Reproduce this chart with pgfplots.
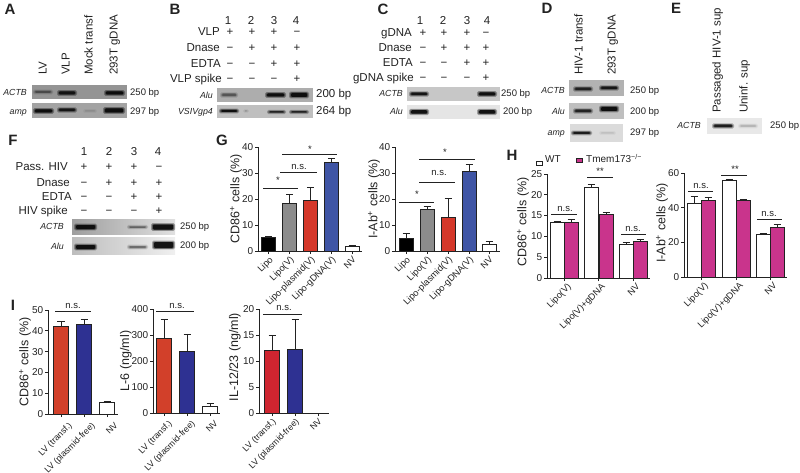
\documentclass[border=0pt]{standalone}
\usepackage{pgfplots}
\pgfplotsset{compat=1.18}
\usepackage{fontspec}
\setmainfont{Liberation Sans}
\definecolor{ink}{HTML}{222222}
\definecolor{cgray}{HTML}{8C8C8C}
\definecolor{cred}{HTML}{D5382A}
\definecolor{cblue}{HTML}{3F55A5}
\definecolor{cmag}{HTML}{C9348C}
\definecolor{ired}{HTML}{D2402A}
\definecolor{iblue}{HTML}{2E3192}
\definecolor{ired2}{HTML}{CF2530}
\newcommand\fB{\fontsize{11.5}{11.5}\selectfont}
\newcommand\fS{\fontsize{9.5}{10}\selectfont}
\newcommand\fI{\fontsize{8.8}{10}\selectfont\itshape}
\newcommand\fH{\fontsize{15}{15}\selectfont\bfseries}
\newcommand\nd[5]{\node[anchor=#1,inner sep=0pt,rotate=#2,text=ink] at (#3pt,-#4pt) {#5};}
\newcommand\gel[5]{\fill[#5] (#1pt,-#2pt) rectangle (#3pt,-#4pt);}
\newcommand\band[5]{%
  \fill[black,opacity=#5*0.3,rounded corners=1.5pt] (#1pt-1pt,-#3pt+#4pt/2+1.3pt) rectangle (#2pt+1pt,-#3pt-#4pt/2-1.3pt);
  \fill[black,opacity=#5*0.4,rounded corners=1.2pt] (#1pt,-#3pt+#4pt/2+.5pt) rectangle (#2pt,-#3pt-#4pt/2-.5pt);
  \fill[black,opacity=#5*0.8,rounded corners=1pt] (#1pt+1pt,-#3pt+#4pt/2) rectangle (#2pt-1pt,-#3pt-#4pt/2);}
\newcommand\signs[5]{\foreach \x/\s in {#2} {\node[inner sep=0pt,anchor=mid,text=ink] at (\x pt,-#1pt) {\fB\s};}}
\newcommand\sig[6]{\draw[ink,line width=.9pt] (#1pt,-#3pt) -- (#2pt,-#3pt);
  \node[inner sep=0pt,anchor=mid,text=ink] at (#5pt,-#6pt) {\fontsize{9.5}{10}\selectfont #4};}
\pgfplotsset{
  panel/.style={scale only axis,anchor=south west,axis x line=bottom,axis y line=left,
    axis line style={-,line width=.9pt,ink},tick style={ink,line width=.9pt},tick align=outside,
    major tick length=3pt,minor tick num=0,ymin=0,ybar,clip=false,
    /pgf/number format/assume math mode=true,
    tick label style={text=ink,inner sep=1.5pt},
    yticklabel style={font=\fontsize{10}{10}\selectfont},
    xticklabel style={font=\fontsize{9.2}{9.2}\selectfont,rotate=45,anchor=north east,inner sep=1pt},
    ylabel style={at={(axis description cs:0,0.5)},anchor=center,font=\fontsize{12.5}{12.5}\selectfont,text=ink},
  },
  bb/.style={fill=#1,draw=ink,line width=.9pt,bar shift=0pt,
    error bars/.cd,y dir=plus,y explicit,error mark=|,error bar style={line width=.9pt,ink},
    error mark options={line width=.9pt,ink,mark size=3.5pt}},
}
\begin{document}
\begin{tikzpicture}
\useasboundingbox (0,0) rectangle (800pt,-473pt);
% ---------- A
\nd{mid}{0}{10}{12}{\fH A}
\foreach \x/\s in {44/LV,67/VLP,90/Mock transf,115/293T gDNA} {\nd{mid west}{90}{\x}{75}{\fB\s}}
\gel{32}{85}{127}{99}{black!42}
\gel{32}{103}{127}{118}{black!36}
\band{34}{52}{92}{2}{.4}\band{58}{76}{93}{3}{.9}\band{105}{124}{93}{3}{1}
\band{34}{53}{111}{3}{1}\band{58}{76}{110}{2.5}{.9}\band{84}{96}{111}{1}{.12}\band{104}{124}{110.5}{4}{1}
\nd{mid east}{0}{27}{93}{\fI ACTB}\nd{mid east}{0}{27}{112}{\fI amp}
\nd{mid west}{0}{130}{93}{\fS 250 bp}\nd{mid west}{0}{130}{112}{\fS 297 bp}
% ---------- B
\nd{mid}{0}{175}{12}{\fH B}
\signs{22}{228/1,251/2,274/3,296/4}{}{}{}
\nd{mid east}{0}{220}{33}{\fB VLP}\nd{mid east}{0}{220}{49}{\fB Dnase}\nd{mid east}{0}{221}{65}{\fB EDTA}\nd{mid east}{0}{222}{80}{\fB VLP spike}
\signs{33}{230/+,252/+,274/+,297/−}{}{}{}
\signs{49}{230/−,252/+,274/+,297/+}{}{}{}
\signs{65}{230/−,252/−,274/+,297/+}{}{}{}
\signs{80}{230/−,252/−,274/−,297/+}{}{}{}
\gel{217}{88}{313}{102}{black!32}
\gel{217}{105}{313}{118}{black!25}
\band{221}{237}{95}{2.5}{.4}\band{266}{285}{95}{3}{1}\band{290}{308}{95}{4}{1}
\band{220}{238}{111}{2}{1}\band{244}{248}{111}{.5}{.2}\band{268}{285}{112}{1.5}{.8}\band{290}{308}{112}{1.5}{.8}
\nd{mid east}{0}{213}{96}{\fI Alu}\nd{mid east}{0}{213}{112}{\fI VSIVgp4}
\nd{mid west}{0}{316}{95}{\fB 200 bp}\nd{mid west}{0}{316}{112}{\fB 264 bp}
% ---------- C
\nd{mid}{0}{383}{12}{\fH C}
\signs{22}{420/1,443/2,467/3,487/4}{}{}{}
\nd{mid east}{0}{412}{34}{\fB gDNA}\nd{mid east}{0}{412}{49}{\fB Dnase}\nd{mid east}{0}{413}{64}{\fB EDTA}\nd{mid east}{0}{414}{79}{\fB gDNA spike}
\signs{34}{423/+,444/+,467/+,486/−}{}{}{}
\signs{49}{423/−,444/+,467/+,486/+}{}{}{}
\signs{64}{423/−,444/−,467/+,486/+}{}{}{}
\signs{79}{423/−,444/−,467/−,486/+}{}{}{}
\gel{407}{87}{500}{101}{black!22}
\gel{407}{105}{500}{119}{black!10}
\band{410}{428}{94}{2.5}{.95}\band{478}{496}{94}{3}{1}
\band{410}{428}{112}{3.5}{1}\band{478}{496}{112}{3.5}{1}
\nd{mid east}{0}{403}{94}{\fI ACTB}\nd{mid east}{0}{403}{112}{\fI Alu}
\nd{mid west}{0}{501}{94}{\fS 250 bp}\nd{mid west}{0}{503}{112}{\fS 200 bp}
% ---------- D
\nd{mid}{0}{547}{11}{\fH D}
\nd{mid west}{90}{580}{75}{\fB HIV-1 transf}\nd{mid west}{90}{613}{75}{\fB 293T gDNA}
\gel{569}{80}{624}{96}{black!30}
\gel{569}{103}{624}{119}{black!25}
\gel{570}{124}{623}{142}{black!14}
\band{574}{592}{89}{2.5}{.8}\band{600}{618}{88}{2.5}{.9}
\band{574}{592}{111}{2.5}{.8}\band{600}{618}{109}{4}{1}
\band{572}{591}{133}{2}{.9}\band{600}{615}{133}{1}{.1}
\nd{mid east}{0}{565}{91}{\fI ACTB}\nd{mid east}{0}{565}{112}{\fI Alu}\nd{mid east}{0}{565}{133}{\fI amp}
\nd{mid west}{0}{630}{91}{\fS 250 bp}\nd{mid west}{0}{630}{112}{\fS 200 bp}\nd{mid west}{0}{630}{133}{\fS 297 bp}
% ---------- E
\nd{mid}{0}{676}{11}{\fH E}
\nd{mid west}{90}{718}{113}{\fB Passaged HIV-1 sup}\nd{mid west}{90}{745}{113}{\fB Uninf. sup}
\gel{707}{118}{762}{134}{black!9}
\band{713}{733}{126}{2.5}{.9}\band{739}{757}{126}{2}{.15}
\nd{mid east}{0}{701}{126}{\fI ACTB}\nd{mid west}{0}{770}{126}{\fS 250 bp}
% ---------- F
\nd{mid}{0}{13}{143}{\fH F}
\signs{153}{84/1,109/2,134/3,158/4}{}{}{}
\nd{mid east}{0}{68}{168}{\fB Pass. HIV}\nd{mid east}{0}{70}{184}{\fB Dnase}\nd{mid east}{0}{72}{198}{\fB EDTA}\nd{mid east}{0}{68}{212}{\fB HIV spike}
\signs{168}{84/+,109/+,134/+,159/−}{}{}{}
\signs{184}{84/−,109/+,134/+,159/+}{}{}{}
\signs{198}{84/−,109/−,134/+,159/+}{}{}{}
\signs{212}{84/−,109/−,134/−,159/+}{}{}{}
\shade[left color=black!38,right color=black!12] (72pt,-219pt) rectangle (175pt,-234pt);
\shade[left color=black!26,right color=black!6] (72pt,-237pt) rectangle (175pt,-254pt);
\band{75}{96}{227}{4}{1}\band{128}{147}{227}{1.5}{.4}\band{152}{174}{227}{5}{1}
\band{75}{96}{247}{4}{1}\band{128}{147}{247}{2}{.4}\band{153}{174}{245}{6}{1}
\nd{mid east}{0}{64}{227}{\fI ACTB}\nd{mid east}{0}{64}{247}{\fI Alu}
\nd{mid west}{0}{180}{227}{\fS 250 bp}\nd{mid west}{0}{180}{246}{\fS 200 bp}
% ---------- G
\nd{mid}{0}{222}{143}{\fH G}
\begin{axis}[panel,at={(258pt,-251pt)},width=104pt,height=104pt,xmin=258,xmax=363,ymax=40,
  ytick={0,10,20,30,40},xtick={269,290,311,332,353},
  xticklabels={Lipo,Lipo(V),Lipo-plasmid(V),Lipo-gDNA(V),NV},bar width=14pt,
  ylabel={CD86\textsuperscript{+} cells (\%)},ylabel style={yshift=22pt}]
\addplot[bb=black] coordinates {(269,5.2) +- (0,0.4)};
\addplot[bb=cgray] coordinates {(290,18.2) +- (0,3.6)};
\addplot[bb=cred] coordinates {(311,19.6) +- (0,4.8)};
\addplot[bb=cblue] coordinates {(332,34) +- (0,1.6)};
\addplot[bb=white] coordinates {(353,1.8) +- (0,0.3)};
\end{axis}
\sig{263}{298}{188}{*}{278}{181}
\sig{280}{317}{172}{n.s.}{299}{167}
\sig{282}{337}{154}{*}{310}{150}
\begin{axis}[panel,at={(395pt,-251pt)},width=105pt,height=104pt,xmin=395,xmax=500,ymax=40,
  ytick={0,10,20,30,40},xtick={406,427,448,469,489},
  xticklabels={Lipo,Lipo(V),Lipo-plasmid(V),Lipo-gDNA(V),NV},bar width=14pt,
  ylabel={I-Ab\textsuperscript{+} cells (\%)},ylabel style={yshift=21pt}]
\addplot[bb=black] coordinates {(406,5) +- (0,1.7)};
\addplot[bb=cgray] coordinates {(427,16) +- (0,1)};
\addplot[bb=cred] coordinates {(448,13) +- (0,7.2)};
\addplot[bb=cblue] coordinates {(469,30.6) +- (0,2.8)};
\addplot[bb=white] coordinates {(489,2.6) +- (0,1)};
\end{axis}
\sig{399}{434}{202}{*}{417}{195}
\sig{419}{455}{182}{n.s.}{439}{173}
\sig{419}{475}{159}{*}{445}{153}
% ---------- H
\nd{mid}{0}{512}{158}{\fH H}
\draw[ink,line width=.9pt,fill=white] (536pt,-161pt) rectangle (542pt,-165pt);
\nd{mid west}{0}{545}{160}{\fontsize{10}{10}\selectfont WT}
\draw[ink,line width=.9pt,fill=cmag] (576pt,-158pt) rectangle (582pt,-162pt);
\nd{mid west}{0}{586}{160}{\fontsize{10}{10}\selectfont Tmem173\textsuperscript{−/−}}
\begin{axis}[panel,at={(547pt,-278pt)},width=103pt,height=104pt,xmin=547,xmax=650,ymax=25,
  ytick={0,5,10,15,20,25},xtick={564,598,633},
  xticklabels={Lipo(V),Lipo(V)+gDNA,NV},bar width=14pt,
  xticklabel style={xshift=2pt,yshift=-2pt},
  ylabel={CD86\textsuperscript{+} cells (\%)},ylabel style={yshift=24pt,xshift=4pt}]
\addplot[bb=white] coordinates {(557,13.4) +- (0,0.3)};
\addplot[bb=cmag] coordinates {(571,13.3) +- (0,0.7)};
\addplot[bb=white] coordinates {(591,21.7) +- (0,0.7)};
\addplot[bb=cmag] coordinates {(606,15.3) +- (0,0.5)};
\addplot[bb=white] coordinates {(626,8) +- (0,0.6)};
\addplot[bb=cmag] coordinates {(640,8.7) +- (0,0.6)};
\end{axis}
\sig{551}{577}{214}{n.s.}{565}{209}
\sig{587}{613}{177}{**}{600}{172}
\sig{621}{646}{234}{n.s.}{633}{229}
\begin{axis}[panel,at={(684pt,-277pt)},width=103pt,height=104pt,xmin=684,xmax=787,ymax=60,
  ytick={0,20,40,60},xtick={701,736,770},
  xticklabels={Lipo(V),Lipo(V)+gDNA,NV},bar width=14pt,
  xticklabel style={xshift=2pt,yshift=-2pt},
  ylabel={I-Ab\textsuperscript{+} cells (\%)},ylabel style={yshift=22pt,xshift=2pt}]
\addplot[bb=white] coordinates {(694,42.5) +- (0,3.8)};
\addplot[bb=cmag] coordinates {(708,44.2) +- (0,1.5)};
\addplot[bb=white] coordinates {(729,55.5) +- (0,1)};
\addplot[bb=cmag] coordinates {(743,44) +- (0,1)};
\addplot[bb=white] coordinates {(763,24.7) +- (0,0.6)};
\addplot[bb=cmag] coordinates {(777,28.5) +- (0,2)};
\end{axis}
\sig{688}{713}{191}{n.s.}{701}{186}
\sig{721}{747}{175}{**}{735}{170}
\sig{757}{782}{219}{n.s.}{769}{214}
% ---------- I
\nd{mid}{0}{13}{308}{\fH I}
\begin{axis}[panel,at={(48pt,-414pt)},width=70pt,height=104pt,xmin=48,xmax=118,ymax=50,
  ytick={0,10,20,30,40,50},xtick={61,84,107},
  xticklabels={LV (transf.),LV (plasmid-free),NV},bar width=15.5pt,
  xticklabel style={font=\fontsize{8.8}{8.8}\selectfont,xshift=2.8pt,yshift=-7pt},
  ylabel={CD86\textsuperscript{+} cells (\%)},ylabel style={yshift=23pt}]
\addplot[bb=ired] coordinates {(61,42.2) +- (0,2.4)};
\addplot[bb=iblue] coordinates {(84,43) +- (0,2.3)};
\addplot[bb=white] coordinates {(107,5.6) +- (0,0.3)};
\end{axis}
\sig{55}{91}{311}{n.s.}{73}{306}
\begin{axis}[panel,at={(153pt,-413pt)},width=67pt,height=104pt,xmin=153,xmax=220,ymax=400,
  ytick={0,100,200,300,400},xtick={164,187,210},
  xticklabels={LV (transf.),LV (plasmid-free),NV},bar width=15.5pt,
  xticklabel style={font=\fontsize{8.8}{8.8}\selectfont,xshift=1.4pt,yshift=-4.2pt},
  ylabel={L-6 (ng/ml)},ylabel style={yshift=27pt}]
\addplot[bb=ired] coordinates {(164,285) +- (0,73)};
\addplot[bb=iblue] coordinates {(187,235) +- (0,69)};
\addplot[bb=white] coordinates {(210,27) +- (0,11)};
\end{axis}
\sig{156}{194}{311}{n.s.}{177}{306}
\begin{axis}[panel,at={(259pt,-413pt)},width=70pt,height=104pt,xmin=259,xmax=329,ymax=20,
  ytick={0,5,10,15,20},xtick={272,295,318},
  xticklabels={LV (transf.),LV (plasmid-free),NV},bar width=15.5pt,
  xticklabel style={font=\fontsize{8.8}{8.8}\selectfont},
  ylabel={IL-12/23 (ng/ml)},ylabel style={yshift=24pt,xshift=4pt}]
\addplot[bb=ired2] coordinates {(272,12) +- (0,2.9)};
\addplot[bb=iblue] coordinates {(295,12.2) +- (0,5.8)};
\end{axis}
\sig{263}{302}{314}{n.s.}{284}{308}
\end{tikzpicture}
\end{document}
